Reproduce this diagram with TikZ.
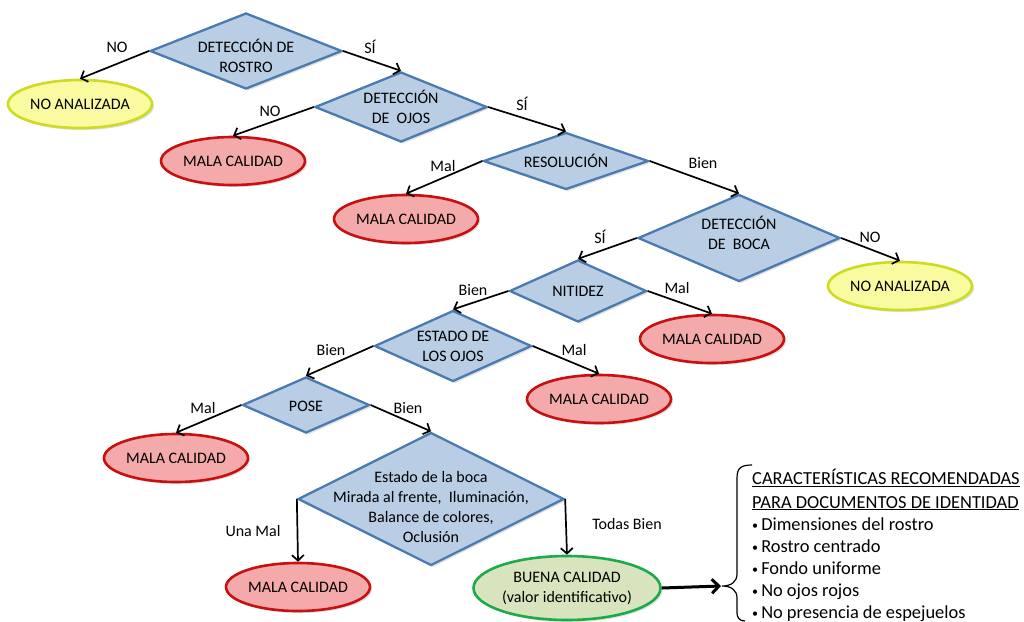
\documentclass[tikz,border=0pt]{standalone}
\usepackage{fontspec}
\setmainfont{Carlito}
\usetikzlibrary{shapes.geometric,arrows.meta,shadows}
\definecolor{bfill}{HTML}{B9CDE5}
\definecolor{bline}{HTML}{4A7AAF}
\definecolor{rfill}{HTML}{F4AAAA}
\definecolor{rline}{HTML}{C81010}
\definecolor{yfill}{HTML}{FAFAA0}
\definecolor{yline}{HTML}{CCDC20}
\definecolor{gfill}{HTML}{D7E4BD}
\definecolor{gline}{HTML}{1DAA4A}
\tikzset{
  dia/.style={diamond, draw=bline, fill=bfill, line width=2.3pt, inner sep=0pt,
    drop shadow={opacity=0.25, shadow xshift=2pt, shadow yshift=-2pt}},
  oval/.style={ellipse, line width=2.6pt, inner sep=0pt, minimum width=144pt, minimum height=48pt,
    drop shadow={opacity=0.25, shadow xshift=2pt, shadow yshift=-2pt}},
  bad/.style={oval, draw=rline, fill=rfill},
  nan/.style={oval, draw=yline, fill=yfill},
  good/.style={oval, draw=gline, fill=gfill, minimum width=187pt, minimum height=64pt},
  arr/.style={line width=1.7pt, -{Straight Barb[length=5.5pt,width=12pt,line width=1.7pt]}},
  lbl/.style={inner sep=0pt},
  txt/.style={align=center, inner sep=0pt, font=\fontsize{16}{20}\selectfont}
}
\begin{document}
\begin{tikzpicture}[x=1pt,y=-1pt,font=\fontsize{16}{20}\selectfont]
\useasboundingbox (0,0) rectangle (1024,621);

% diamonds
\node[dia, minimum width=192pt, minimum height=76pt, label={[txt,yshift=-5pt]center:{DETECCIÓN DE\\ROSTRO}}] (d1) at (246,51) {};
\node[dia, minimum width=172pt, minimum height=70pt, label={[txt]center:{DETECCIÓN\\DE\ \ OJOS}}] (d2) at (401,107) {};
\node[dia, minimum width=165pt, minimum height=57pt, label={[txt]center:{RESOLUCIÓN}}] (d3) at (566,161) {};
\node[dia, minimum width=202pt, minimum height=87pt, label={[txt,yshift=5pt]center:{DETECCIÓN\\DE\ \ BOCA}}] (d4) at (739,238) {};
\node[dia, minimum width=137pt, minimum height=62pt, label={[txt]center:{NITIDEZ}}] (d5) at (578,291) {};
\node[dia, minimum width=157pt, minimum height=71pt, label={[txt]center:{ESTADO DE\\LOS OJOS}}] (d6) at (453,346) {};
\node[dia, minimum width=127pt, minimum height=56pt, label={[txt,yshift=-1pt]center:{POSE}}] (d7) at (306,405) {};
\node[dia, minimum width=266pt, minimum height=133pt, label={[txt,yshift=-8pt]center:{Estado de la boca\\Mirada al frente,\ \ Iluminación,\\Balance de colores,\\Oclusión}}] (d8) at (431,499) {};

% ovals
\node[nan] (e1) at (80,104) {NO ANALIZADA};
\node[bad] (e2) at (233,161) {MALA CALIDAD};
\node[bad] (e3) at (406,219) {MALA CALIDAD};
\node[nan] (e4) at (900,286) {NO ANALIZADA};
\node[bad] (e5) at (712,339) {MALA CALIDAD};
\node[bad] (e6) at (599,399) {MALA CALIDAD};
\node[bad] (e7) at (176,458) {MALA CALIDAD};
\node[bad] (e8) at (298,587) {MALA CALIDAD};
\node[good, label={[txt]center:{BUENA CALIDAD\\(valor identificativo)}}] (e9) at (567,588) {};

% connectors
\draw[arr] (d1.west) -- (e1.north);
\draw[arr] (d1.east) -- (d2.north);
\draw[arr] (d2.west) -- (e2.north);
\draw[arr] (d2.east) -- (d3.north);
\draw[arr] (d3.west) -- (e3.north);
\draw[arr] (d3.east) -- (d4.north);
\draw[arr] (d4.east) -- (e4.north);
\draw[arr] (d4.west) -- (d5.north);
\draw[arr] (d5.east) -- (e5.north);
\draw[arr] (d5.west) -- (d6.north);
\draw[arr] (d6.east) -- (e6.north);
\draw[arr] (d6.west) -- (d7.north);
\draw[arr] (d7.west) -- (e7.north);
\draw[arr] (d7.east) -- (d8.north);
\draw[arr] (d8.west) -- (e8.north);
\draw[arr] (d8.east) -- (e9.north);

% edge labels
\node[lbl] (l1) at (117,47) {NO};
\node[lbl] (l2) at (370,47) {SÍ};
\node[lbl] (l3) at (270,111) {NO};
\node[lbl] (l4) at (522,104) {SÍ};
\node[lbl] (l5) at (443,166) {Mal};
\node[lbl] (l6) at (703,163) {Bien};
\node[lbl] (l7) at (870,237) {NO};
\node[lbl] (l8) at (600,237) {SÍ};
\node[lbl] (l9) at (473,290) {Bien};
\node[lbl] (l10) at (677,288) {Mal};
\node[lbl] (l11) at (331,350) {Bien};
\node[lbl] (l12) at (574,350) {Mal};
\node[lbl] (l13) at (203,408) {Mal};
\node[lbl] (l14) at (408,408) {Bien};
\node[lbl] (l15) at (253,531) {Una Mal};
\node[lbl] (l16) at (627,524) {Todas Bien};

% brace and characteristics
\coordinate (tip) at (721,586);
\draw[line width=3pt, -{Straight Barb[length=7pt,width=14pt,line width=3pt]}] (e9.east) -- (tip);
\draw[line width=1.2pt] (752,465) .. controls (741,465) and (737,468) .. (737,478) -- (737,574)
   .. controls (737,582) and (731,586) .. (722,586)
   .. controls (731,586) and (737,590) .. (737,598) -- (737,613)
   .. controls (737,617) and (739,621) .. (745,621);
\node[anchor=north west, align=left, inner sep=0pt, font=\fontsize{18.4}{22}\selectfont] (chars) at (752,469)
 {\underline{CARACTERÍSTICAS RECOMENDADAS}\\[1.5pt]
  \underline{PARA DOCUMENTOS DE IDENTIDAD}\\
  \raisebox{1pt}{\fontsize{12}{12}\selectfont•}\,Dimensiones del rostro\\
  \raisebox{1pt}{\fontsize{12}{12}\selectfont•}\,Rostro centrado\\
  \raisebox{1pt}{\fontsize{12}{12}\selectfont•}\,Fondo uniforme\\
  \raisebox{1pt}{\fontsize{12}{12}\selectfont•}\,No ojos rojos\\
  \raisebox{1pt}{\fontsize{12}{12}\selectfont•}\,No presencia de espejuelos};
\end{tikzpicture}
\end{document}
